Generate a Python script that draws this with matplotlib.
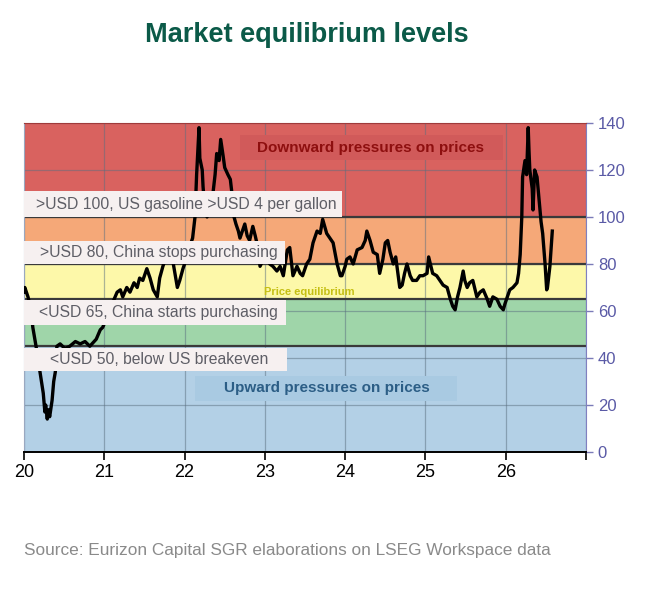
import matplotlib
matplotlib.use("Agg")
import matplotlib.pyplot as plt
from matplotlib.patches import Rectangle

# Oil price (USD/bbl), x in years since 2000 (20 = 2020)
YEARS = [20.00, 20.01, 20.05, 20.09, 20.11, 20.15, 20.20, 20.24, 20.26, 20.27,
         20.29, 20.30, 20.32, 20.35, 20.37, 20.39, 20.41, 20.45, 20.51, 20.57,
         20.64, 20.70, 20.76, 20.82, 20.90, 20.95, 20.98, 21.03, 21.07, 21.11,
         21.16, 21.20, 21.23, 21.28, 21.32, 21.37, 21.41, 21.44, 21.48, 21.53,
         21.57, 21.61, 21.66, 21.69, 21.73, 21.76, 21.78, 21.82, 21.86, 21.91,
         21.94, 21.98, 22.03, 22.07, 22.10, 22.13, 22.15, 22.18, 22.19, 22.22,
         22.23, 22.25, 22.28, 22.30, 22.34, 22.38, 22.40, 22.43, 22.45, 22.48,
         22.50, 22.54, 22.57, 22.59, 22.60, 22.64, 22.67, 22.69, 22.73, 22.75,
         22.78, 22.81, 22.85, 22.88, 22.90, 22.94, 22.98, 23.03, 23.06, 23.10,
         23.15, 23.19, 23.23, 23.28, 23.31, 23.35, 23.40, 23.44, 23.47, 23.52,
         23.56, 23.60, 23.65, 23.69, 23.72, 23.77, 23.81, 23.85, 23.90, 23.94,
         23.96, 24.00, 24.02, 24.06, 24.10, 24.15, 24.21, 24.25, 24.27, 24.31,
         24.35, 24.40, 24.43, 24.47, 24.50, 24.53, 24.56, 24.60, 24.63, 24.68,
         24.71, 24.74, 24.77, 24.81, 24.84, 24.89, 24.93, 24.97, 25.02, 25.04,
         25.09, 25.14, 25.18, 25.22, 25.27, 25.31, 25.34, 25.37, 25.40, 25.43,
         25.47, 25.49, 25.52, 25.55, 25.59, 25.64, 25.68, 25.72, 25.77, 25.80,
         25.84, 25.89, 25.93, 25.97, 25.99, 26.01, 26.05, 26.09, 26.14, 26.16,
         26.18, 26.20, 26.21, 26.24, 26.26, 26.28, 26.29, 26.30, 26.33, 26.34,
         26.36, 26.39, 26.43, 26.44, 26.46, 26.49, 26.51, 26.52, 26.55, 26.58]
PRICE = [68, 70, 66, 60, 53, 45, 34, 25, 17, 20,
         14, 18, 15, 22, 30, 34, 45, 46, 44, 45,
         47, 46, 47, 45, 48, 52, 53, 57, 60, 64,
         68, 69, 66, 70, 68, 72, 70, 74, 73, 78,
         74, 69, 66, 74, 79, 82, 83, 85, 80, 70,
         73, 78, 83, 88, 91, 100, 118, 138, 125, 120,
         113, 104, 100, 103, 106, 118, 127, 124, 133, 126,
         121, 118, 116, 110, 102, 97, 94, 91, 95, 97,
         92, 90, 96, 92, 89, 79, 82, 83, 80, 79,
         77, 79, 75, 86, 87, 75, 79, 76, 75, 80,
         82, 89, 94, 93, 99, 93, 91, 89, 80, 75,
         75, 79, 82, 83, 80, 86, 87, 90, 94, 90,
         85, 84, 76, 82, 89, 90, 85, 80, 83, 70,
         71, 76, 80, 75, 73, 73, 75, 75, 76, 83,
         76, 75, 73, 71, 70, 65, 62, 60.5, 66, 70,
         77, 73, 70, 72, 73, 66, 68, 69, 65, 62,
         66, 65, 62, 60.5, 63, 65, 69, 70, 72, 76,
         84, 100, 117, 124, 118, 138, 128, 120, 112, 103,
         120, 117, 102, 98, 93, 80, 69, 70, 79, 94]

BAND_EDGES = [0, 45, 65, 80, 100, 140]
BAND_COLORS = ["#b3d0e6", "#9fd5a9", "#fdf8a9", "#f5a878", "#d9625f"]
LEVELS = [45, 65, 80, 100]

LEVEL_LABELS = [">USD 100, US gasoline >USD 4 per gallon",
                ">USD 80, China stops purchasing",
                "<USD 65, China starts purchasing",
                "<USD 50, below US breakeven"]

XTICKS = [20, 21, 22, 23, 24, 25, 26, 27]
XTICKLABELS = ["20", "21", "22", "23", "24", "25", "26", ""]
YTICKS = [0, 20, 40, 60, 80, 100, 120, 140]

FONT = ["Liberation Sans", "DejaVu Sans"]

fig = plt.figure(figsize=(6.52, 6.04), dpi=100)
ax = fig.add_axes([0.0368, 0.2517, 0.862, 0.5447])

for lo, hi, c in zip(BAND_EDGES[:-1], BAND_EDGES[1:], BAND_COLORS):
    ax.axhspan(lo, hi, color=c, zorder=0, lw=0)
for lv in LEVELS:
    ax.axhline(lv, color="#3a3a3a", lw=1.6, zorder=2)

ax.grid(True, color="#5a6f80", alpha=0.5, lw=0.9, zorder=1)
ax.set_axisbelow(True)

ax.plot(YEARS, PRICE, color="black", lw=2.4, zorder=3)

ax.set_xlim(20, 27)
ax.set_ylim(0, 140)
ax.set_xticks(XTICKS)
ax.set_xticklabels(XTICKLABELS, fontsize=13, family=FONT)
ax.yaxis.tick_right()
ax.set_yticks(YTICKS)
ax.tick_params(axis="y", colors="#7b7bb8", labelcolor="#5a5aa6", labelsize=12,
               length=5, width=1)
for lab in ax.get_yticklabels():
    lab.set_family(FONT)
ax.tick_params(axis="x", length=6, width=1.2, color="black", pad=3)

ax.spines["bottom"].set_color("black")
ax.spines["bottom"].set_linewidth(1.4)
ax.spines["right"].set_color("#8080c0")
ax.spines["left"].set_color("#9aa8c0")
ax.spines["left"].set_linewidth(0.8)
ax.spines["top"].set_color("#a03a3a")
ax.spines["top"].set_linewidth(0.8)

# level annotation boxes (axes fraction): x0, x1, y0, y1, text x
boxes = [(0.0, 0.566, 0.714, 0.793, 0.021),
         (0.0, 0.464, 0.571, 0.641, 0.028),
         (0.0, 0.466, 0.386, 0.462, 0.026),
         (0.0, 0.468, 0.246, 0.316, 0.046)]
for (x0, x1, y0, y1, tx), txt in zip(boxes, LEVEL_LABELS):
    ax.add_patch(Rectangle((x0, y0), x1 - x0, y1 - y0, transform=ax.transAxes,
                           facecolor="#f6f0f0", edgecolor="none", zorder=4,
                           clip_on=False))
    ax.text(tx, (y0 + y1) / 2, txt, transform=ax.transAxes, ha="left",
            va="center", fontsize=11.3, color="#5e5e66", family=FONT, zorder=5)

ax.add_patch(Rectangle((0.384, 0.888), 0.468, 0.075, transform=ax.transAxes,
                       facecolor="#d15a5a", edgecolor="none", zorder=4))
ax.text(0.617, 0.925, "Downward pressures on prices", transform=ax.transAxes,
        ha="center", va="center", fontsize=11, fontweight="bold",
        color="#8e0f0f", family=FONT, zorder=5)

ax.add_patch(Rectangle((0.304, 0.155), 0.466, 0.076, transform=ax.transAxes,
                       facecolor="#a9cae2", edgecolor="none", zorder=4))
ax.text(0.539, 0.193, "Upward pressures on prices", transform=ax.transAxes,
        ha="center", va="center", fontsize=11, fontweight="bold",
        color="#2c5e86", family=FONT, zorder=5)

ax.text(0.507, 0.487, "Price equilibrium", transform=ax.transAxes,
        ha="center", va="center", fontsize=8, fontweight="bold",
        color="#c5bf14", family=FONT, zorder=5)

fig.text(0.471, 0.942, "Market equilibrium levels", ha="center", va="center",
         fontsize=19.5, fontweight="bold", color="#0b5a48", family=FONT)
fig.text(0.037, 0.089, "Source: Eurizon Capital SGR elaborations on LSEG Workspace data",
         ha="left", va="center", fontsize=12.4, color="#8a8a8a", family=FONT)

fig.savefig("out.png", dpi=100)
